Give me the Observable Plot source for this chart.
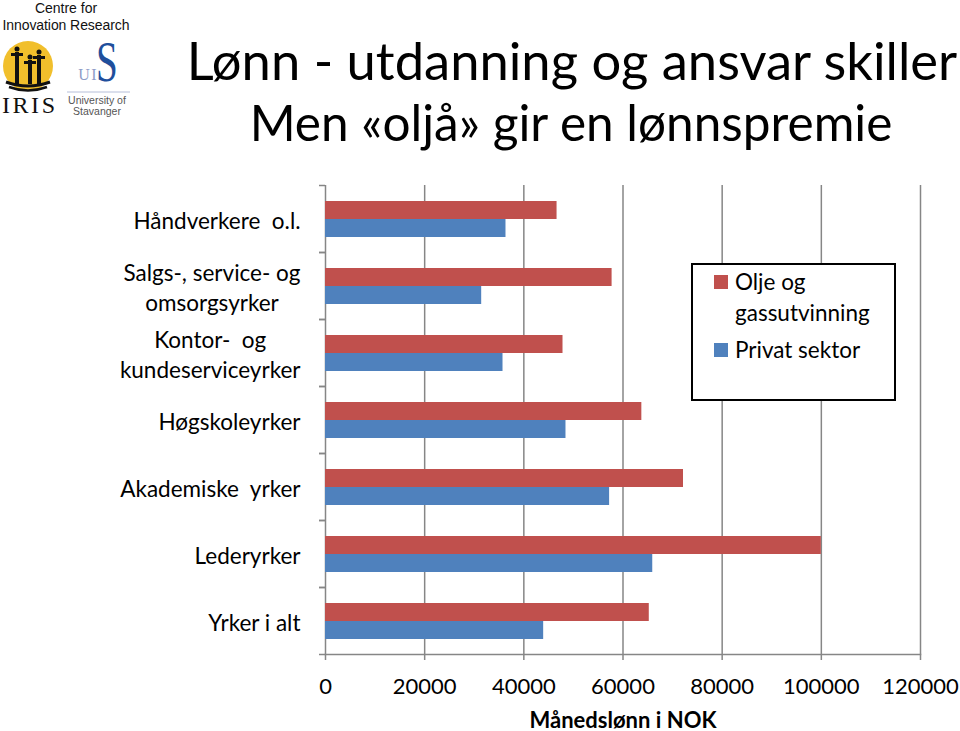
<!DOCTYPE html>
<html>
<head>
<meta charset="utf-8">
<script src="https://cdn.jsdelivr.net/npm/d3@7"></script>
<script src="https://cdn.jsdelivr.net/npm/@observablehq/plot@0.6"></script>
<style>
  body { margin: 0; background: #fff; }
  #wrap { position: relative; width: 960px; height: 731px; overflow: hidden; font-family: Lato, sans-serif; }
  #chart { position: absolute; left: 0; top: 170px; }
  #legend { position: absolute; left: 691px; top: 263px; width: 205px; height: 138px; box-sizing: border-box;
            border: 2px solid #000; background: #fff; font: 22.5px Lato, sans-serif; line-height: 31px; color: #000; padding-top: 1px; }
  .row { position: relative; padding-left: 42px; width: 148px; }
  .row + .row { margin-top: 6px; }
  .sw { position: absolute; left: 21px; top: 9px; width: 14px; height: 14px; }
</style>
</head>
<body>
<div id="wrap">
  <svg id="header" width="960" height="170" style="position:absolute;left:0;top:0">
    <g font-family="'Liberation Sans', Arial, sans-serif" fill="#111">
      <text x="66" y="13" text-anchor="middle" font-size="14">Centre for</text>
      <text x="66" y="30" text-anchor="middle" font-size="14" textLength="127">Innovation Research</text>
    </g>
    <circle cx="28" cy="66" r="25" fill="#F1BF2C"/>
    <g fill="#111">
      <rect x="15" y="52" width="4" height="32"/><rect x="11" y="53" width="12" height="3"/><circle cx="17" cy="49" r="2.5"/>
      <rect x="28" y="60" width="4" height="24"/><rect x="24" y="61" width="12" height="3"/><circle cx="30" cy="57" r="2.5"/>
      <rect x="37" y="55" width="4" height="29"/><rect x="33" y="56" width="12" height="3"/><circle cx="39" cy="52" r="2.5"/>
    </g>
    <path d="M6,82 Q28,90 50,82" stroke="#111" stroke-width="3" fill="none"/>
    <path d="M9,87 Q28,94 47,87" stroke="#111" stroke-width="2.5" fill="none"/>
    <text x="2" y="113" font-family="'Liberation Serif', serif" font-size="24" textLength="53" fill="#111">IRIS</text>
    <text x="107" y="81" text-anchor="middle" font-family="'Liberation Serif', serif" font-size="56" fill="#1f4f9c" transform="translate(107,81) scale(0.7,1) translate(-107,-81)">S</text>
    <text x="84" y="80" text-anchor="middle" font-family="'Liberation Serif', serif" font-size="16" fill="#8e9cc7">U</text>
    <text x="94" y="80" text-anchor="middle" font-family="'Liberation Serif', serif" font-size="16" fill="#8e9cc7">I</text>
    <line x1="67" x2="130" y1="92" y2="92" stroke="#b6bfd9" stroke-width="1"/>
    <g font-family="'Liberation Sans', Arial, sans-serif" fill="#555" font-size="10.5" text-anchor="middle">
      <text x="97" y="104">University of</text>
      <text x="97" y="115">Stavanger</text>
    </g>
    <g font-family="Lato, sans-serif" fill="#000" text-anchor="middle">
      <text x="572" y="80" font-size="52.5">Lønn - utdanning og ansvar skiller</text>
      <text x="571" y="141" font-size="49.5">Men «oljå» gir en lønnspremie</text>
    </g>
  </svg>
  <div id="chart"></div>
  <div id="legend"></div>
</div>
<script>
// ---- data ----
const categories = ["Håndverkere o.l.", "Salgs-, service- og omsorgsyrker", "Kontor- og kundeserviceyrker",
                    "Høgskoleyrker", "Akademiske yrker", "Lederyrker", "Yrker i alt"];
const tickLabels = ["Håndverkere  o.l.", "Salgs-, service- og\nomsorgsyrker", "Kontor-  og\nkundeserviceyrker",
                    "Høgskoleyrker", "Akademiske  yrker", "Lederyrker", "Yrker i alt"];
const seriesNames = ["Olje og gassutvinning", "Privat sektor"];
const seriesColors = ["#C0504D", "#4F81BD"];
const oilValues = [46700, 57800, 47900, 63800, 72200, 100000, 65300];
const privateValues = [36400, 31500, 35800, 48500, 57300, 66000, 44000];
const xTicks = [0, 20000, 40000, 60000, 80000, 100000, 120000];
const xLabel = "Månedslønn i NOK";

const rows = [];
categories.forEach((c, i) => {
  rows.push({cat: c, series: seriesNames[0], value: oilValues[i]});
  rows.push({cat: c, series: seriesNames[1], value: privateValues[i]});
});

const gray = "#868686";
const chart = Plot.plot({
  width: 960,
  height: 561,
  marginLeft: 325,
  marginRight: 40,
  marginTop: 13,
  marginBottom: 76,
  style: {fontFamily: "Lato, sans-serif", fontSize: "21px", color: "#000", background: "transparent"},
  x: {domain: [0, 120000]},
  fy: {domain: categories, padding: 0, axis: null},
  y: {domain: seriesNames, paddingInner: 0, paddingOuter: 0.79, axis: null},
  color: {domain: seriesNames, range: seriesColors},
  marks: [
    Plot.gridX(xTicks, {stroke: gray, strokeOpacity: 1, strokeWidth: 1.5}),
    Plot.barX(rows, {fy: "cat", y: "series", x: "value", fill: "series"}),
    Plot.frame({anchor: "bottom", facetAnchor: "bottom", stroke: gray, strokeWidth: 1.5}),
    Plot.axisX(xTicks, {tickSize: 6, tickPadding: 18, stroke: gray, strokeWidth: 1.5, fontSize: 22,
      tickFormat: d => String(d), label: xLabel, labelArrow: "none", labelAnchor: "center", labelOffset: 73}),
    Plot.axisFy({anchor: "left", tickSize: 6, tickPadding: 19, stroke: gray, strokeWidth: 1.5, fontSize: 22.5, lineHeight: 1.33,
      tickFormat: d => tickLabels[categories.indexOf(d)], label: null})
  ]
});
document.getElementById("chart").append(chart);

// move category ticks to band boundaries
const bw = chart.scale("fy").bandwidth;
const tickG = chart.querySelector('g[aria-label="fy-axis tick"]');
if (tickG) {
  const t0 = tickG.getAttribute("transform") || "";
  const clone = tickG.cloneNode(true);
  tickG.setAttribute("transform", `${t0} translate(0,${-bw / 2})`);
  clone.setAttribute("transform", `${t0} translate(0,${bw / 2})`);
  tickG.parentNode.insertBefore(clone, tickG.nextSibling);
}
// center the lines of multi-line labels within their block
chart.querySelectorAll('g[aria-label="fy-axis tick label"] text').forEach(t => {
  const sp = t.querySelectorAll("tspan");
  if (sp.length > 1) {
    const w = Math.max(...[...sp].map(s => s.getComputedTextLength()));
    t.setAttribute("text-anchor", "middle");
    sp.forEach(s => s.setAttribute("x", (parseFloat(s.getAttribute("x")) || 0) - w / 2));
  }
});
const lab = chart.querySelector('g[aria-label="x-axis label"] text');
if (lab) {
  lab.setAttribute("font-weight", "bold");
  lab.setAttribute("font-size", "22");
  lab.textContent = xLabel;
}

// legend
const legend = document.getElementById("legend");
seriesNames.forEach((n, i) => {
  const r = document.createElement("div");
  r.className = "row";
  const s = document.createElement("span");
  s.className = "sw";
  s.style.background = seriesColors[i];
  r.append(s, document.createTextNode(n));
  legend.append(r);
});
</script>
</body>
</html>
